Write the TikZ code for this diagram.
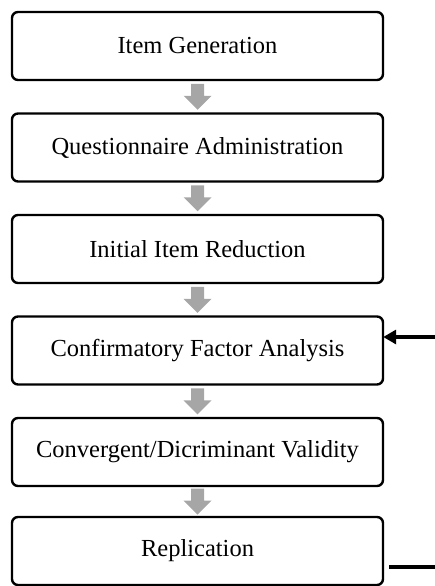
\documentclass[tikz,border=0pt]{standalone}
\usepackage{fontspec}
\setmainfont{Liberation Serif}
\usetikzlibrary{arrows.meta,calc}
\begin{document}
\begin{tikzpicture}[x=1pt,y=-1pt,
  stagebox/.style={draw=black, line width=2.4pt, rounded corners=6pt,
    minimum width=371pt, minimum height=68pt, inner sep=0pt,
    font=\fontsize{24.5}{28}\selectfont},
  blockarrow/.style={fill=black!35, draw=none},
  sideline/.style={line width=3.4pt}
]
\useasboundingbox (0,0) rectangle (435,586);

% stages of the procedure
\node[stagebox] (s1) at (197.5,46)  {Item Generation};
\node[stagebox] (s2) at (197.5,147.5) {Questionnaire Administration};
\node[stagebox] (s3) at (197.5,249) {Initial Item Reduction};
\node[stagebox] (s4) at (197.5,350.5) {Confirmatory Factor Analysis};
\node[stagebox] (s5) at (197.5,452) {Convergent/Dicriminant Validity};
\node[stagebox] (s6) at (197.5,551) {Replication};

% grey block arrows between consecutive stages
\foreach \a/\b in {s1/s2, s2/s3, s3/s4, s4/s5, s5/s6}{
  \coordinate (m) at ($(\a.south)!0.5!(\b.north)$);
  \fill[blockarrow] ($(m)+(-6.5,-13)$) -- ($(m)+(6.5,-13)$) -- ($(m)+(6.5,-1)$)
    -- ($(m)+(14,-1)$) -- ($(m)+(0,13)$) -- ($(m)+(-14,-1)$)
    -- ($(m)+(-6.5,-1)$) -- cycle;
}

% feedback loop from replication back to CFA
\coordinate (loopin) at (435,337);
\coordinate (loopout) at (435,567);
\draw[sideline, -{Triangle[length=13pt,width=14pt]}] (loopin) -- ([xshift=-1pt]loopin -| s4.east);
\draw[sideline] ([xshift=5pt]s6.east |- loopout) -- (loopout);
\end{tikzpicture}
\end{document}
